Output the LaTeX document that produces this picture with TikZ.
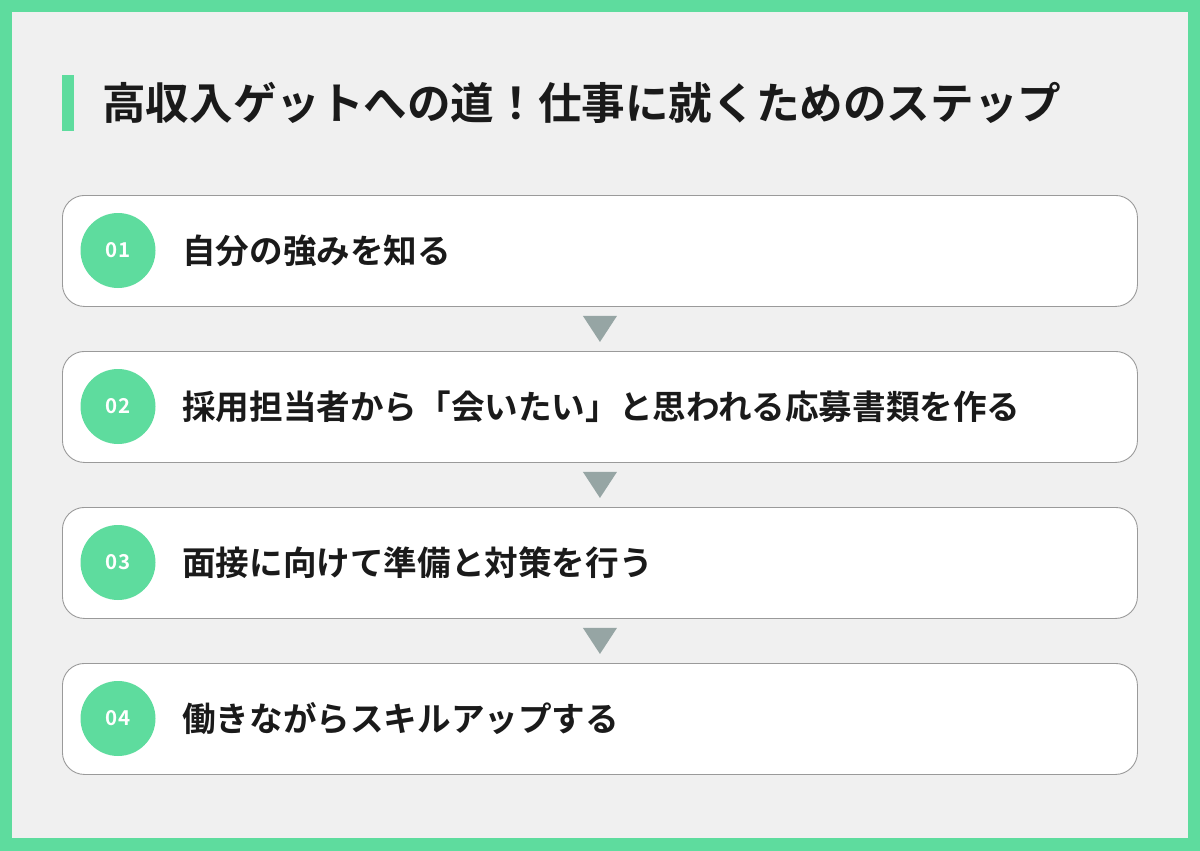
\documentclass[tikz,border=0pt]{standalone}
\usepackage{fontspec}
\newfontfamily\jpb{Noto Sans CJK JP Bold}
\newfontfamily\jpm{Noto Sans CJK JP Medium}
\definecolor{brand}{HTML}{5EDC9E}
\definecolor{bgc}{HTML}{F0F0F0}
\definecolor{edgec}{HTML}{9A9A9A}
\definecolor{arrc}{HTML}{96A5A4}
\definecolor{txt}{HTML}{1A1A1A}
\tikzset{
  stepbox/.style={draw=edgec, line width=0.9pt, fill=white, rounded corners=22pt, minimum width=1075pt, minimum height=111pt, anchor=north west, inner sep=0pt},
  numdot/.style={circle, fill=brand, minimum size=75pt, inner sep=0pt, text=white, font=\jpb\fontsize{20.5}{20.5}\selectfont},
  steptext/.style={anchor=west, text=txt, font=\jpb\fontsize{33.6}{33.6}\selectfont, inner sep=0pt},
  downtri/.style={fill=arrc, draw=none}
}
\begin{document}
\begin{tikzpicture}[x=1pt,y=-1pt]
\useasboundingbox (0,0) rectangle (1200,851);
\fill[brand] (0,0) rectangle (1200,851);
\fill[bgc] (12,12) rectangle (1188,838);
\fill[brand] (62,75) rectangle (74,131);
\node[anchor=west, inner sep=0pt, text=txt, font=\jpb\fontsize{43.6}{43.6}\selectfont] (title) at (102,103) {高収入ゲットへの道！仕事に就くためのステップ};
\foreach \i/\y/\t in {1/195/自分の強みを知る, 2/351/採用担当者から「会いたい」と思われる応募書類を作る, 3/507/面接に向けて準備と対策を行う, 4/663/働きながらスキルアップする}{
  \node[stepbox] (box\i) at (62,\y) {};
  \node[numdot] (num\i) at (118,\y+55.5) {0\i};
  \node[steptext] (txt\i) at (182,\y+55.5) {\t};
}
\foreach \a/\b in {1/2,2/3,3/4}{
  \path (box\a.south) -- (box\b.north) coordinate[pos=0.5] (mid\a);
  \fill[downtri] ([xshift=-17pt,yshift=13pt]mid\a) -- ([xshift=17pt,yshift=13pt]mid\a) -- ([yshift=-13pt]mid\a) -- cycle;
}
\end{tikzpicture}
\end{document}
